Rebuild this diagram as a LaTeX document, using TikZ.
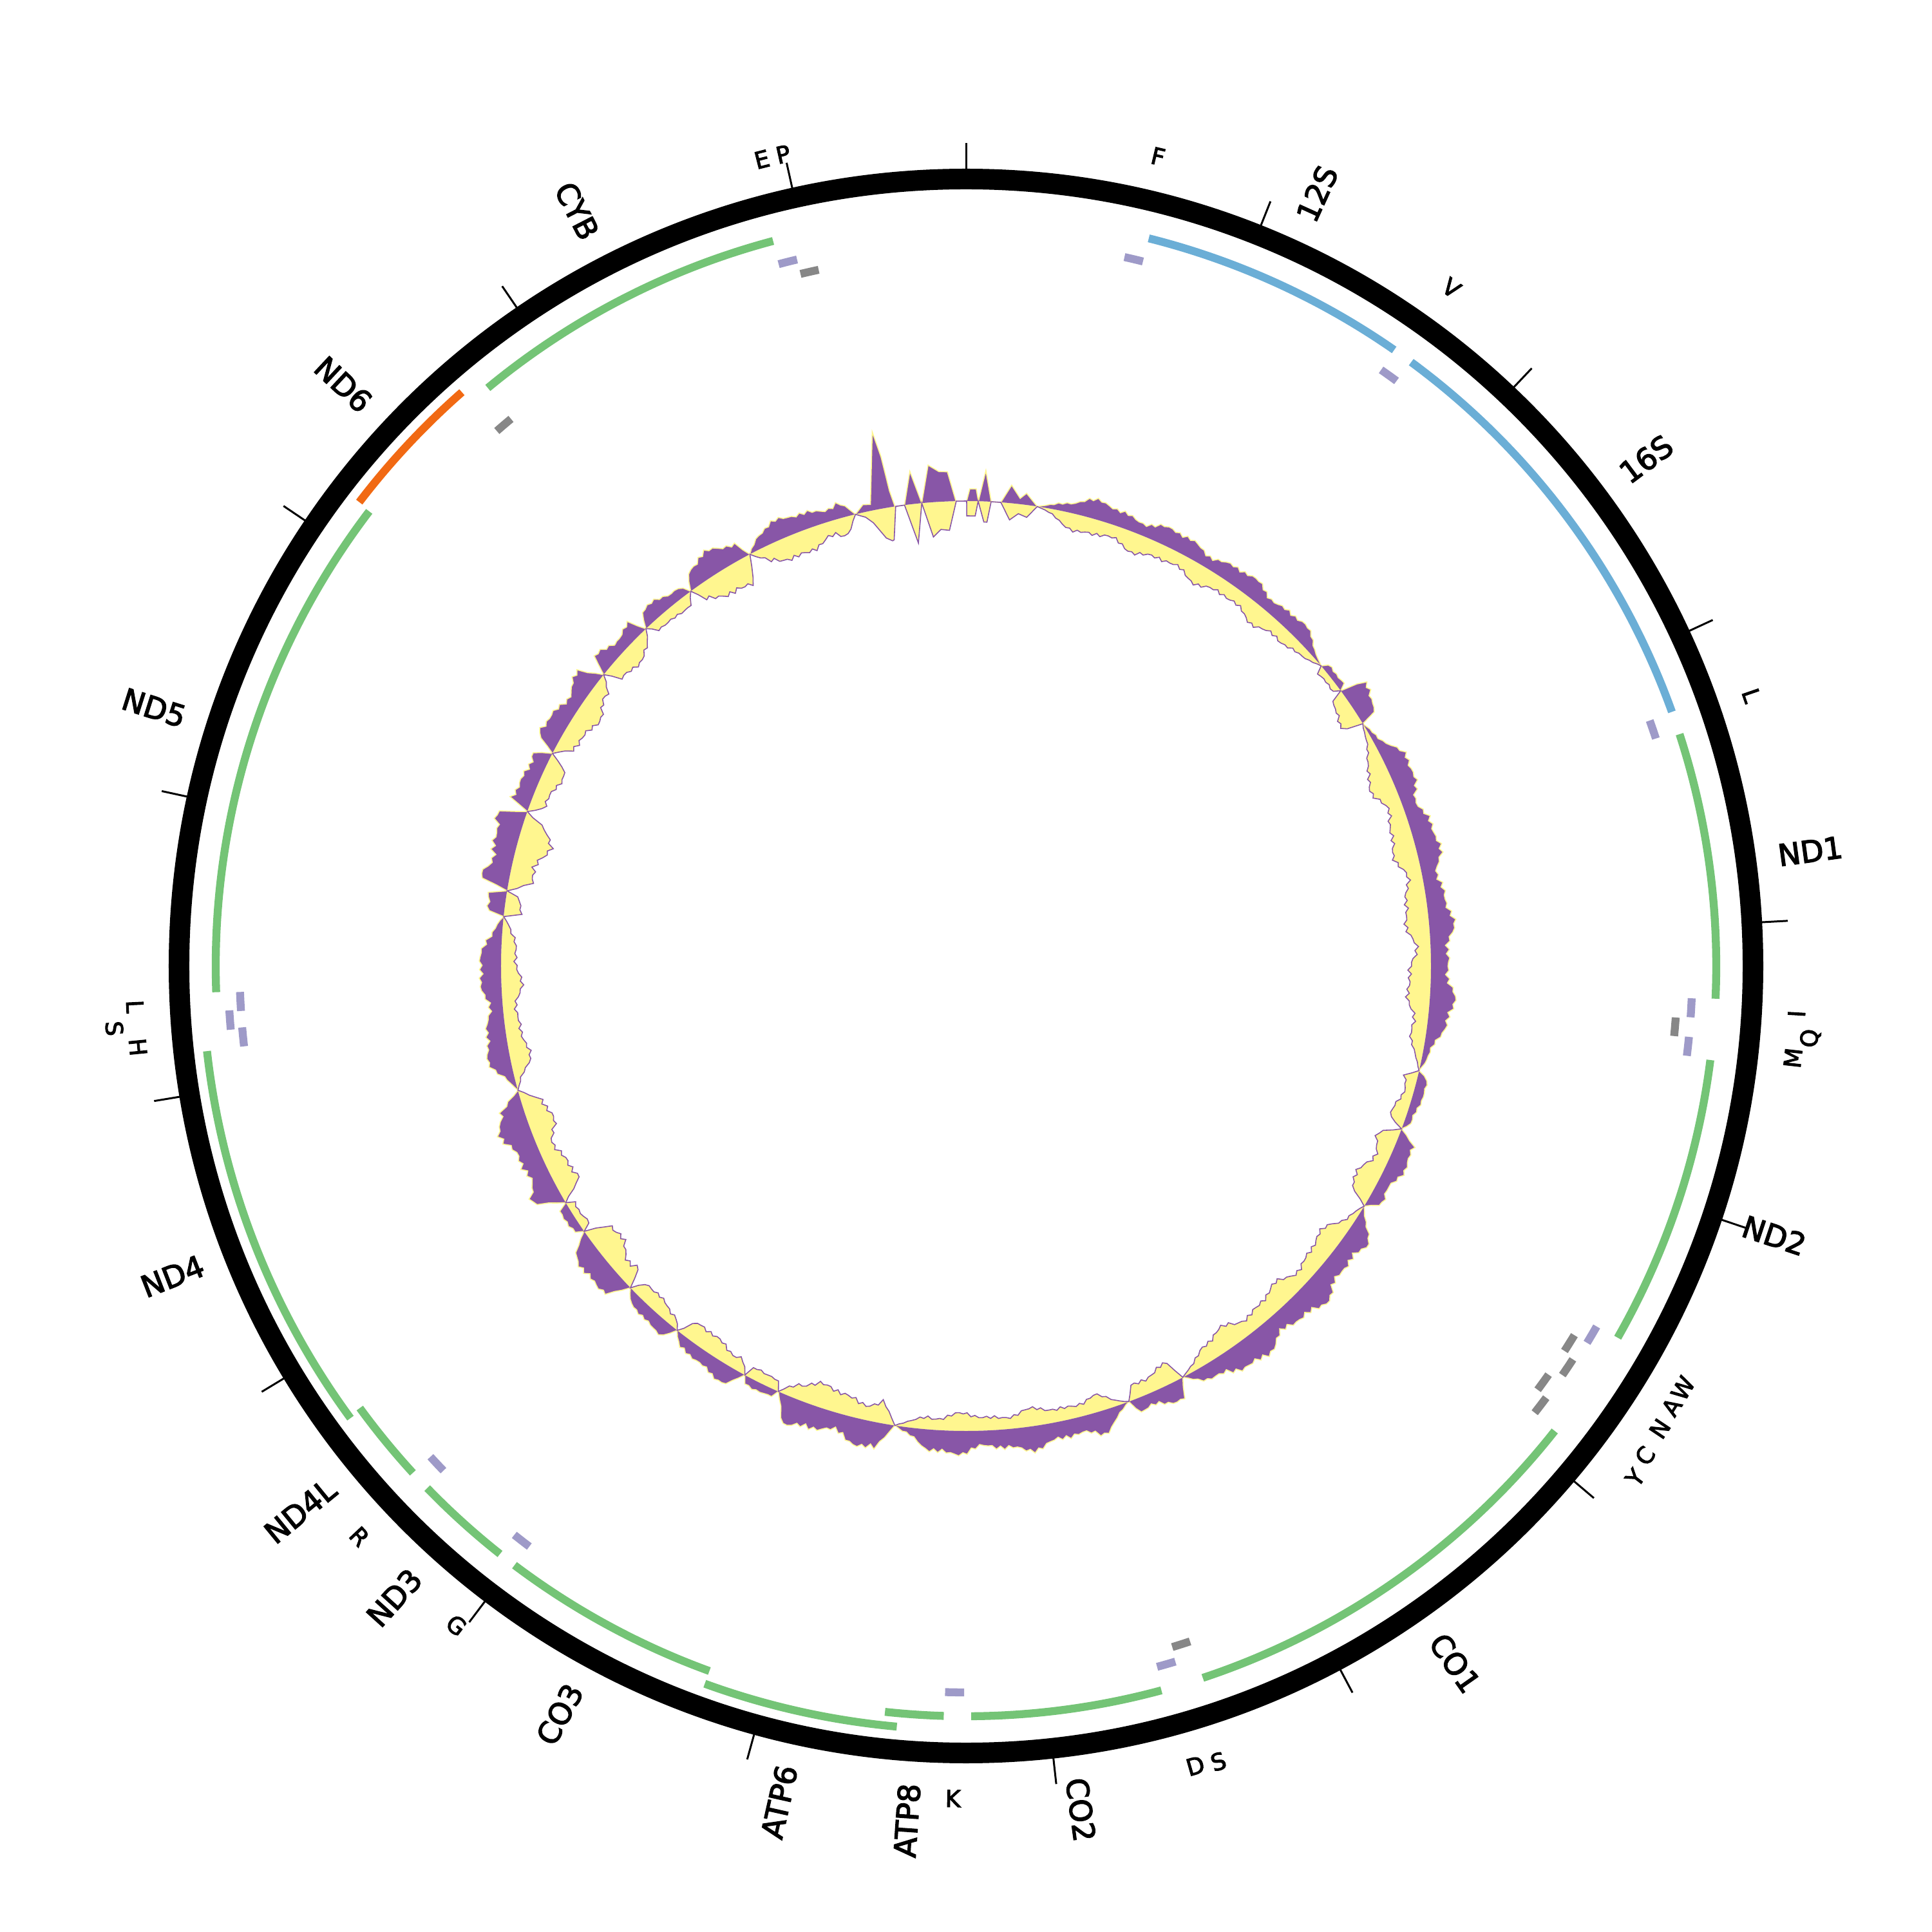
\documentclass[tikz,border=0pt]{standalone}
\usepackage{fontspec}
\setmainfont{DejaVu Sans}
\newfontfamily\labelfont{DejaVu Sans}[FakeBold=3]
\usepackage{xcolor}
\usepackage{tikz}
\definecolor{genegreen}{HTML}{74C476}
\definecolor{rrnablue}{HTML}{6BAED6}
\definecolor{trnalav}{HTML}{9E9AC8}
\definecolor{trnagrey}{HTML}{878787}
\definecolor{minusorange}{HTML}{F16913}
\definecolor{skewpurple}{HTML}{8856A7}
\definecolor{skewyellow}{HTML}{FFF68F}

% arc of a feature: start angle, end angle (clockwise from top), radius, style
\newcommand{\featarc}[4]{%
  \draw[#4] ({90-#1}:#3) arc[start angle={90-#1}, end angle={90-#2}, radius=#3];}

\begin{document}
\begin{tikzpicture}[
    gene/.style={draw=genegreen, line width=3.5pt},
    rrna/.style={draw=rrnablue, line width=3.5pt},
    ndsix/.style={draw=minusorange, line width=3.5pt},
    trna/.style={draw=trnalav, line width=3.5pt},
    trnaminus/.style={draw=trnagrey, line width=3.5pt},
    tickmark/.style={line width=0.85pt},
    genelab/.style={
        font=\labelfont\fontsize{13.3}{15}\selectfont,
        inner sep=0pt, text height=9.7pt, text depth=0pt,
    },
    trnalab/.style={
        font=\labelfont\fontsize{10.3}{12}\selectfont,
        inner sep=0pt, text height=7.5pt, text depth=0pt, anchor=center,
    },
]
\useasboundingbox (-15,-15) rectangle (15,15);

% Skew ring: outward (purple) and inward (yellow) values
\gdef\plist{}\gdef\ylist{}
% sharp peaks near the origin
\foreach \ta/\tp in {-13.75/0, -12.6/12, -11.7/10, -9.96/120, -9.48/80,
    -9.15/25, -8.79/0, -7.6/0, -6.48/51, -5.46/0, -4.33/58, -3.15/47,
    -2.16/46, -1.24/0, 0.08/0, 0.46/19, 1.23/19, 1.53/0, 2.30/48, 3.11/0,
    4.3/0, 5.43/28, 6.61/9, 7.31/18, 8.82/0} {
    \pgfmathsetmacro\ang{90-\ta}
    \pgfmathsetmacro\rp{7.22+0.01*\tp}
    \xdef\plist{\plist -- (\ang:\rp)}
}
\foreach \ta/\ty in {-13.75/0, -12.6/8, -11.8/19, -10.55/46, -9.79/52,
    -9.57/51, -8.7/0, -7.6/0, -6.42/61, -5.46/0, -4.34/54, -3.29/43,
    -2.17/45, -1.2/0, 0.08/0, 0.1/23, 1.17/23, 1.5/0, 2.3/32, 2.7/32, 3.1/0,
    4.3/0, 5.57/26, 6.6/15, 7.7/19, 8.82/0} {
    \pgfmathsetmacro\ang{90-\ta}
    \pgfmathsetmacro\ry{7.22-0.01*\ty}
    \xdef\ylist{\ylist -- (\ang:\ry)}
}
% humps between the zero points
\foreach \za/\zb/\pa/\ya in {8.82/49.8/24/24, 49.8/53.7/12/12, 53.7/58.6/30/25,
    58.6/103/31/30, 103/110.5/15/20, 110.5/121.1/25/30, 121.1/152.2/35/28,
    152.2/159.5/25/25, 159.5/188.8/30/22, 188.8/203.8/35/30, 203.8/208.4/15/15,
    208.4/218.4/22/25, 218.4/226.2/18/20, 226.2/235.2/32/35, 235.2/239.4/15/15,
    239.4/254.5/38/32, 254.5/276.1/28/25, 276.1/279.3/25/20, 279.3/289.4/40/40,
    289.4/297.2/30/25, 297.2/308.8/30/30, 308.8/316.5/25/25, 316.5/323.7/20/15,
    323.7/332.3/30/35, 332.3/346.25/25/30} {
    \pgfmathtruncatemacro\nn{max(2,round((\zb-\za)/0.5))}
    \foreach \j in {1,...,\nn} {
        \pgfmathsetmacro\xx{\za+(\zb-\za)*\j/\nn}
        \pgfmathsetmacro\ss{min(1,2.5*sin(180*\j/\nn))}
        \pgfmathsetmacro\rp{7.22+0.01*\pa*\ss*(1+0.2*sin(37*(\xx-180)+20)+0.1*sin(83*(\xx-180)+50)+0.1*sin(157*\j+3*\za))}
        \pgfmathsetmacro\ry{7.22-0.01*\ya*\ss*(1+0.2*sin(41*(\xx-180)+80)+0.1*sin(79*(\xx-180)+10)+0.1*sin(149*\j+5*\za))}
        \pgfmathsetmacro\ang{90-\xx}
        \xdef\plist{\plist -- (\ang:\rp)}
        \xdef\ylist{\ylist -- (\ang:\ry)}
    }
}
\fill[skewyellow, even odd rule] (103.75:7.22) \ylist -- cycle (0,0) circle (7.22);
\fill[skewpurple, even odd rule] (103.75:7.22) \plist -- cycle (0,0) circle (7.22);
\draw[skewyellow, line width=0.45pt] (103.75:7.22) \plist -- cycle;
\draw[skewpurple, line width=0.45pt] (103.75:7.22) \ylist -- cycle;

% Genome ring and ticks
\draw[line width=9.1pt] (0,0) circle (12.22);
\foreach \k in {0,...,16}
    \draw[tickmark] ({90-21.713*\k}:12.37) -- ({90-21.713*\k}:12.78);

% Genes
\featarc{14.1}{34.8}{11.65}{rrna}
\featarc{36.4}{70.2}{11.65}{rrna}
\featarc{72.0}{92.5}{11.65}{gene}
\featarc{97.2}{119.7}{11.65}{gene}
\featarc{128.3}{161.6}{11.65}{gene}
\featarc{164.9}{179.6}{11.65}{gene}
\featarc{181.7}{186.2}{11.65}{gene}
\featarc{185.2}{200.0}{11.86}{gene}
\featarc{200.0}{217.0}{11.65}{gene}
\featarc{218.4}{225.9}{11.65}{gene}
\featarc{227.5}{233.9}{11.65}{gene}
\featarc{233.7}{263.6}{11.86}{gene}
\featarc{268.0}{307.3}{11.65}{gene}
\featarc{307.4}{318.7}{11.86}{ndsix}
\featarc{320.4}{345.1}{11.65}{gene}

% tRNAs
\featarc{12.6}{14.1}{11.28}{trna}
\featarc{34.85}{36.35}{11.28}{trna}
\featarc{70.25}{71.75}{11.28}{trna}
\featarc{92.55}{94.05}{11.28}{trna}
\featarc{94.15}{95.65}{11.05}{trnaminus}
\featarc{95.6}{97.1}{11.28}{trna}
\featarc{119.75}{121.25}{11.28}{trna}
\featarc{121.25}{122.75}{11.05}{trnaminus}
\featarc{122.95}{124.45}{11.23}{trnaminus}
\featarc{125.05}{126.55}{11.05}{trnaminus}
\featarc{126.65}{128.15}{11.23}{trnaminus}
\featarc{161.65}{163.15}{11.05}{trnaminus}
\featarc{163.25}{164.75}{11.28}{trna}
\featarc{180.15}{181.65}{11.28}{trna}
\featarc{216.95}{218.45}{11.28}{trna}
\featarc{226.0}{227.5}{11.28}{trna}
\featarc{263.65}{265.15}{11.28}{trna}
\featarc{265.05}{266.55}{11.46}{trna}
\featarc{266.45}{267.95}{11.28}{trna}
\featarc{318.75}{320.25}{11.05}{trnaminus}
\featarc{345.05}{346.55}{11.28}{trna}
\featarc{346.55}{348.05}{11.05}{trnaminus}

% Gene labels
\node[genelab, anchor=west, rotate={90-24.45}] (lab12s) at ({90-24.45}:12.72) {12S};
\node[genelab, anchor=west, rotate={90-53.3}] (lab16s) at ({90-53.3}:12.72) {16S};
\node[genelab, anchor=west, rotate={90-82.25}] (labnd1) at ({90-82.25}:12.72) {ND1};
\node[genelab, anchor=west, rotate={90-108.45}] (labnd2) at ({90-108.45}:12.72) {ND2};
\node[genelab, anchor=west, rotate={90-144.95}] (labco1) at ({90-144.95}:12.72) {CO1};
\node[genelab, anchor=west, rotate={90-172.25}] (labco2) at ({90-172.25}:12.72) {CO2};
\node[genelab, anchor=east, rotate={270-183.95}] (labatp8) at ({90-183.95}:12.72) {ATP8};
\node[genelab, anchor=east, rotate={270-192.6}] (labatp6) at ({90-192.6}:12.72) {ATP6};
\node[genelab, anchor=east, rotate={270-208.5}] (labco3) at ({90-208.5}:12.72) {CO3};
\node[genelab, anchor=east, rotate={270-222.15}] (labnd3) at ({90-222.15}:12.72) {ND3};
\node[genelab, anchor=east, rotate={270-230.7}] (labnd4l) at ({90-230.7}:12.72) {ND4L};
\node[genelab, anchor=east, rotate={270-248.65}] (labnd4) at ({90-248.65}:12.72) {ND4};
\node[genelab, anchor=east, rotate={270-287.65}] (labnd5) at ({90-287.65}:12.72) {ND5};
\node[genelab, anchor=east, rotate={270-313.05}] (labnd6) at ({90-313.05}:12.72) {ND6};
\node[genelab, anchor=east, rotate={270-332.75}] (labcyb) at ({90-332.75}:12.72) {CYB};

% tRNA labels
\node[trnalab, rotate=-13.35] (labf) at ({90-13.35}:12.92) {F};
\node[trnalab, rotate=-35.6] (labv) at ({90-35.6}:12.95) {V};
\node[trnalab, rotate=-71.0] (labl1) at ({90-71.0}:12.90) {L};
\node[trnalab, rotate=86.7] (labi) at ({90-93.3}:12.92) {I};
\node[trnalab, rotate=85.1] (labq) at ({90-94.9}:13.14) {Q};
\node[trnalab, rotate=83.65] (labm) at ({90-96.35}:12.92) {M};
\node[trnalab, rotate=59.5] (labw) at ({90-120.5}:12.92) {W};
\node[trnalab, rotate=58.0] (laba) at ({90-122.0}:12.92) {A};
\node[trnalab, rotate=56.3] (labn) at ({90-123.7}:12.95) {N};
\node[trnalab, rotate=54.2] (labc) at ({90-125.8}:13.0) {C};
\node[trnalab, rotate=52.6] (laby) at ({90-127.4}:13.08) {Y};
\node[trnalab, rotate=17.6] (labs2) at ({90-162.4}:12.96) {S};
\node[trnalab, rotate=16.0] (labd) at ({90-164.0}:12.92) {D};
\node[trnalab, rotate=-0.9] (labk) at ({90-180.9}:12.93) {K};
\node[trnalab, rotate=-37.7] (labg) at ({90-217.7}:12.94) {G};
\node[trnalab, rotate=-46.75] (labr) at ({90-226.75}:12.93) {R};
\node[trnalab, rotate=-84.4] (labh) at ({90-264.4}:12.92) {H};
\node[trnalab, rotate=-85.8] (labs1) at ({90-265.8}:13.26) {S};
\node[trnalab, rotate=-87.2] (labl2) at ({90-267.2}:12.92) {L};
\node[trnalab, rotate=14.2] (labe) at ({90-345.8}:12.92) {E};
\node[trnalab, rotate=12.7] (labp) at ({90-347.3}:12.92) {P};

\end{tikzpicture}
\end{document}
